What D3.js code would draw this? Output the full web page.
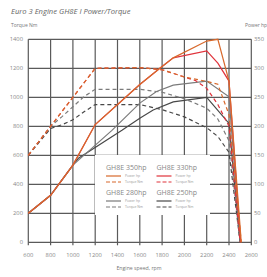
<!DOCTYPE html>
<html>
<head>
<meta charset="utf-8">
<script src="https://cdn.jsdelivr.net/npm/d3@7"></script>
<style>
  body { margin: 0; background: #fff; }
  svg { display: block; font-family: "Open Sans", sans-serif; }
</style>
</head>
<body>
<svg width="267" height="277"></svg>
<script>
// values
const rpmTicks = [600, 800, 1000, 1200, 1400, 1600, 1800, 2000, 2200, 2400, 2600];
const torqueTicks = [0, 200, 400, 600, 800, 1000, 1200, 1400];
const powerTicks = [0, 50, 100, 150, 200, 250, 300, 350];

// GH8E 350hp
const rpm350P = [600, 800, 1000, 1200, 1600, 1780, 1900, 2200, 2300, 2400, 2510];
const hp350 = [50, 81, 133, 203, 272, 300, 318, 347, 350, 278, 0];
const rpm350T = [600, 1200, 1600, 1800, 2000, 2200, 2300, 2400, 2510];
const nm350 = [600, 1200, 1205, 1190, 1140, 1110, 1090, 880, 0];

// GH8E 330hp
const rpm330P = [600, 800, 1000, 1200, 1600, 1780, 1900, 2200, 2300, 2400, 2505];
const hp330 = [50, 81, 133, 203, 272, 300, 318, 330, 309, 278, 0];
const rpm330T = [600, 1200, 1600, 1800, 2000, 2100, 2200, 2300, 2400, 2500];
const nm330 = [600, 1200, 1205, 1190, 1140, 1115, 1062, 950, 800, 0];

// GH8E 280hp
const rpm280P = [600, 800, 1000, 1350, 1600, 1750, 1900, 2200, 2400, 2500];
const hp280 = [50, 81, 133, 193, 240, 260, 271, 278, 251, 0];
const rpm280T = [600, 800, 900, 1000, 1100, 1200, 1600, 1800, 2000, 2200, 2300, 2400, 2500];
const nm280 = [600, 800, 865, 935, 1005, 1055, 1055, 1035, 990, 925, 850, 700, 0];

// GH8E 250hp
const rpm250P = [600, 800, 1000, 1050, 1440, 1600, 1720, 1900, 2200, 2400, 2500];
const hp250 = [50, 81, 133, 145, 193, 214, 228, 242, 250, 205, 0];
const rpm250T = [600, 800, 900, 1000, 1100, 1200, 1600, 1800, 2000, 2200, 2300, 2400, 2500];
const nm250 = [600, 785, 810, 845, 900, 950, 950, 915, 865, 790, 730, 620, 0];

const engines = [
  { name: "GH8E 250hp", color: "#484848", rpmP: rpm250P, hp: hp250, rpmT: rpm250T, nm: nm250 },
  { name: "GH8E 280hp", color: "#7b7b7b", rpmP: rpm280P, hp: hp280, rpmT: rpm280T, nm: nm280 },
  { name: "GH8E 330hp", color: "#e0323b", rpmP: rpm330P, hp: hp330, rpmT: rpm330T, nm: nm330 },
  { name: "GH8E 350hp", color: "#d8692c", rpmP: rpm350P, hp: hp350, rpmT: rpm350T, nm: nm350 }
];

const svg = d3.select("svg");
const plotLeft = 28.3, plotRight = 251.3, plotTop = 39.3, plotBottom = 242.3;

const x = d3.scaleLinear().domain([600, 2600]).range([plotLeft, plotRight]);
const yT = d3.scaleLinear().domain([0, 1400]).range([plotBottom, plotTop]);
const yP = d3.scaleLinear().domain([0, 350]).range([plotBottom, plotTop]);

// title and axis captions
svg.append("text").attr("x", 11).attr("y", 14)
  .attr("font-size", 7.6).attr("font-style", "italic").attr("fill", "#666")
  .text("Euro 3 Engine GH8E I Power/Torque");
svg.append("text").attr("x", 11).attr("y", 27)
  .attr("font-size", 5).attr("fill", "#777").text("Torque Nm");
svg.append("text").attr("x", 245).attr("y", 27)
  .attr("font-size", 5).attr("fill", "#777").text("Power hp");
svg.append("text").attr("x", 139).attr("y", 270).attr("text-anchor", "middle")
  .attr("font-size", 5.2).attr("fill", "#777").text("Engine speed, rpm");

// grid
const grid = svg.append("g").attr("stroke", "#5a5a5a").attr("stroke-width", 1.2);
grid.selectAll("line.v").data(rpmTicks).join("line")
  .attr("x1", d => x(d)).attr("x2", d => x(d))
  .attr("y1", plotTop).attr("y2", plotBottom + 3);
grid.selectAll("line.h").data(torqueTicks).join("line")
  .attr("x1", plotLeft).attr("x2", plotRight)
  .attr("y1", d => yT(d)).attr("y2", d => yT(d));

// tick labels
svg.append("g").selectAll("text").data(torqueTicks).join("text")
  .attr("x", 23).attr("y", d => yT(d) + 2)
  .attr("text-anchor", "end").attr("font-size", 5.8).attr("fill", "#888")
  .text(d => d);
svg.append("g").selectAll("text").data(powerTicks).join("text")
  .attr("x", 254).attr("y", d => yP(d) + 2)
  .attr("font-size", 5.8).attr("fill", "#888")
  .text(d => d);
svg.append("g").selectAll("text").data(rpmTicks).join("text")
  .attr("x", d => x(d)).attr("y", 257)
  .attr("text-anchor", "middle").attr("font-size", 5.8).attr("fill", "#888")
  .text(d => d);

// legend box
svg.append("rect").attr("x", 95).attr("y", 155).attr("width", 115).attr("height", 60)
  .attr("fill", "#fff");

const powerLine = d3.line().x(d => x(d[0])).y(d => yP(d[1]));
const torqueLine = d3.line().x(d => x(d[0])).y(d => yT(d[1]));

const curves = svg.append("g").attr("fill", "none").attr("stroke-width", 1.2);
engines.forEach(e => {
  curves.append("path")
    .attr("d", torqueLine(d3.zip(e.rpmT, e.nm)))
    .attr("stroke", e.color).attr("stroke-dasharray", "4,3");
  curves.append("path")
    .attr("d", powerLine(d3.zip(e.rpmP, e.hp)))
    .attr("stroke", e.color);
});

// legend entries
const legendOrder = ["GH8E 350hp", "GH8E 330hp", "GH8E 280hp", "GH8E 250hp"];
legendOrder.forEach((name, i) => {
  const e = engines.find(d => d.name === name);
  const lx = 106 + (i % 2) * 50.5;
  const ly = 170 + Math.floor(i / 2) * 25;
  const g = svg.append("g");
  g.append("text").attr("x", lx).attr("y", ly)
    .attr("font-size", 7).attr("fill", "#888").text(e.name);
  g.append("line").attr("x1", lx).attr("x2", lx + 15)
    .attr("y1", ly + 6).attr("y2", ly + 6)
    .attr("stroke", e.color).attr("stroke-width", 1.2);
  g.append("line").attr("x1", lx).attr("x2", lx + 15)
    .attr("y1", ly + 12).attr("y2", ly + 12)
    .attr("stroke", e.color).attr("stroke-width", 1.2).attr("stroke-dasharray", "4,2");
  g.append("text").attr("x", lx + 19).attr("y", ly + 7.3)
    .attr("font-size", 3.4).attr("fill", "#999").text("Power hp");
  g.append("text").attr("x", lx + 19).attr("y", ly + 13.3)
    .attr("font-size", 3.4).attr("fill", "#999").text("Torque Nm");
});
</script>
</body>
</html>
